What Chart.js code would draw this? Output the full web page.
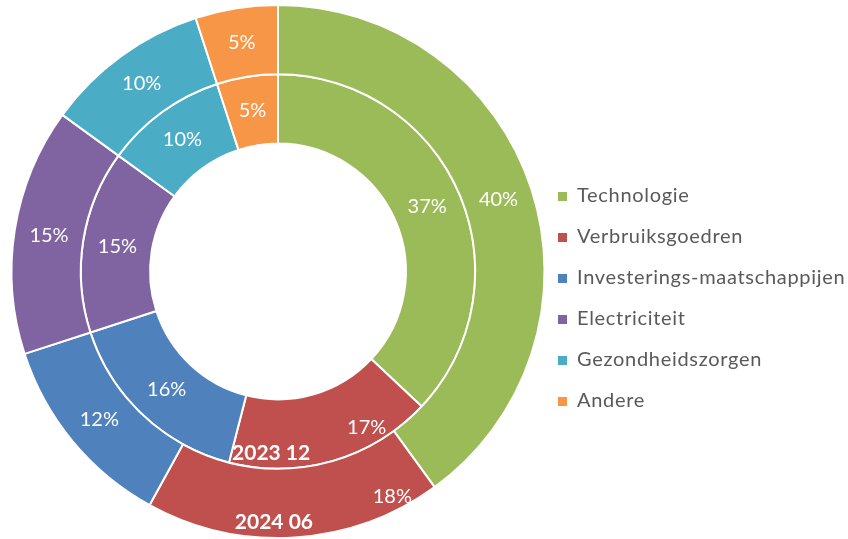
<!DOCTYPE html>
<html>
<head>
<meta charset="utf-8">
<script src="https://cdn.jsdelivr.net/npm/chart.js@4.4.1/dist/chart.umd.min.js"></script>
<style>
  html, body { margin: 0; padding: 0; background: #fff; }
  #wrap { width: 848px; height: 539px; }
</style>
</head>
<body>
<div id="wrap"><canvas id="sectorChart"></canvas></div>
<script>
// sectoren en percentages (buitenste ring = 2024 06, binnenste = 2023 12)
const categories = ['Technologie', 'Verbruiksgoedren', 'Investerings-maatschappijen', 'Electriciteit', 'Gezondheidszorgen', 'Andere'];
const periods = ['2024 06', '2023 12'];
const values202406 = [40, 18, 12, 15, 10, 5];
const values202312 = [37, 17, 16, 15, 10, 5];
const colors = ['#9BBB59', '#C0504D', '#4F81BD', '#8064A2', '#4BACC6', '#F79646'];

// labels op de ringen: percentage + periode-naam in het rode segment
const ringLabels = {
  id: 'ringLabels',
  afterDatasetsDraw(chart) {
    const ctx = chart.ctx;
    ctx.save();
    ctx.fillStyle = '#ffffff';
    ctx.textAlign = 'center';
    ctx.textBaseline = 'middle';
    chart.data.datasets.forEach((ds, di) => {
      const meta = chart.getDatasetMeta(di);
      meta.data.forEach((arc, i) => {
        const p = arc.getProps(['x', 'y', 'startAngle', 'endAngle', 'innerRadius', 'outerRadius']);
        const span = p.endAngle - p.startAngle;
        const put = (frac, r, text) => {
          const a = p.startAngle + span * frac;
          ctx.fillText(text, p.x + Math.cos(a) * r, p.y + Math.sin(a) * r);
        };
        ctx.font = '20px Lato';
        if (i === 1) {
          // rood segment: percentage opzij, periode in het midden
          if (di === 0) put(0.14, p.outerRadius - 14, ds.data[i] + '%');
          else put(0.28, p.outerRadius - 18, ds.data[i] + '%');
          ctx.font = 'bold 21px Lato';
          if (di === 0) put(0.57, p.outerRadius - 16, ds.label);
          else put(0.8, p.outerRadius - 15, ds.label);
        } else {
          put(0.5, (p.innerRadius + p.outerRadius) / 2, ds.data[i] + '%');
        }
      });
    });
    ctx.restore();
  }
};

// legenda rechts
const sideLegend = {
  id: 'sideLegend',
  afterDraw(chart) {
    const ctx = chart.ctx;
    ctx.save();
    ctx.font = '20px Lato';
    ctx.letterSpacing = '0.7px';
    ctx.textBaseline = 'middle';
    categories.forEach((c, i) => {
      const y = 196 + i * 41;
      ctx.fillStyle = colors[i];
      ctx.fillRect(558, y - 4, 9, 9);
      ctx.fillStyle = '#595959';
      ctx.fillText(c, 577, y);
    });
    ctx.restore();
  }
};

let ctx = document.getElementById('sectorChart').getContext('2d');

let sectorChart = new Chart(ctx, {
  type: 'doughnut',
  data: {
    labels: categories,
    datasets: [{
      label: periods[0],
      data: values202406,
      backgroundColor: colors,
      borderColor: '#ffffff',
      borderWidth: 2
    }, {
      label: periods[1],
      data: values202312,
      backgroundColor: colors,
      borderColor: '#ffffff',
      borderWidth: 2
    }]
  },
  options: {
    responsive: true,
    maintainAspectRatio: false,
    animation: false,
    cutout: '48%',
    layout: { padding: { top: 4, bottom: 0, left: 0, right: 292 } },
    plugins: {
      legend: { display: false },
      tooltip: { enabled: false }
    }
  },
  plugins: [ringLabels, sideLegend]
});
</script>
</body>
</html>
